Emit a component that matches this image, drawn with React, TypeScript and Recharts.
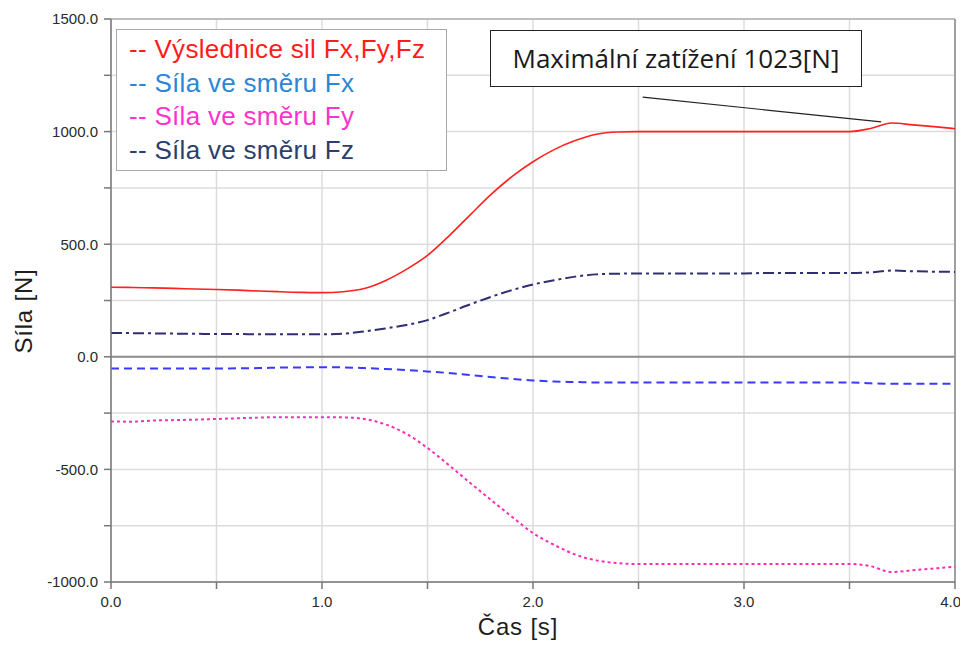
import React from "react";
import {
  LineChart,
  Line,
  XAxis,
  YAxis,
  CartesianGrid,
  ReferenceLine,
} from "recharts";

// time axis [s]
const time = [
  0.0, 0.1, 0.2, 0.3, 0.4, 0.5, 0.6, 0.7, 0.8, 0.9, 1.0, 1.1, 1.2, 1.3, 1.4,
  1.5, 1.6, 1.7, 1.8, 1.9, 2.0, 2.1, 2.2, 2.3, 2.4, 2.5, 2.6, 2.7, 2.8, 2.9,
  3.0, 3.1, 3.2, 3.3, 3.4, 3.5, 3.6, 3.7, 3.8, 3.9, 4.0,
];
// resultant force [N]
const resultant = [
  309, 308, 306, 304, 301, 299, 296, 292, 289, 286, 285, 289, 303, 338, 388,
  450, 535, 628, 720, 800, 866, 920, 960, 988, 998, 1000, 1000, 1000, 1000,
  1000, 1000, 1000, 1000, 1000, 1000, 1000, 1014, 1038, 1030, 1022, 1013,
];
const forceX = [
  -52, -52, -52, -52, -52, -52, -51, -50, -48, -47, -46, -47, -50, -54, -59,
  -65, -72, -81, -90, -98, -105, -110, -112, -114, -114, -114, -114, -114,
  -114, -114, -114, -114, -114, -114, -114, -114, -118, -120, -120, -120, -120,
];
const forceY = [
  -287, -288, -283, -281, -279, -276, -273, -270, -268, -268, -268, -269, -276,
  -300, -342, -405, -480, -558, -635, -710, -783, -835, -878, -904, -916, -920,
  -920, -920, -920, -920, -920, -920, -920, -920, -920, -920, -930, -956, -948,
  -940, -932,
];
const forceZ = [
  106, 105, 104, 103, 102, 101, 101, 100, 100, 100, 100, 103, 113, 126, 141,
  163, 196, 232, 266, 296, 321, 340, 356, 366, 369, 370, 370, 370, 370, 370,
  370, 372, 372, 372, 372, 372, 375, 383, 380, 378, 377,
];

const xTicks = [0, 0.5, 1, 1.5, 2, 2.5, 3, 3.5, 4];
const yTicks = [-1000, -750, -500, -250, 0, 250, 500, 750, 1000, 1250, 1500];

const legendItems = [
  { label: "-- Výslednice sil Fx,Fy,Fz", color: "#ff1c1c" },
  { label: "-- Síla ve směru Fx", color: "#2b86d6" },
  { label: "-- Síla ve směru Fy", color: "#ff33cc" },
  { label: "-- Síla ve směru Fz", color: "#2c3f6c" },
];

const annotationText = "Maximální zatížení 1023[N]";
const pointer = [
  { x: 2.52, y: 1153 },
  { x: 3.65, y: 1043 },
];

const data = time.map((t, i) => ({
  t,
  res: resultant[i],
  fx: forceX[i],
  fy: forceY[i],
  fz: forceZ[i],
}));

const font = "'Liberation Sans', Arial, sans-serif";
const tickStyle = { fill: "#2a2a2a", fontSize: 15, fontFamily: font };

export default function App() {
  return (
    <div style={{ position: "relative", width: 952, height: 640 }}>
      <LineChart
        width={952}
        height={640}
        data={data}
        margin={{ top: 11, right: 5, left: 0, bottom: 0 }}
      >
        <CartesianGrid stroke="#dcdcdc" strokeWidth={1.5} />
        <XAxis
          dataKey="t"
          type="number"
          domain={[0, 4]}
          ticks={xTicks}
          height={66}
          tickSize={7}
          tickMargin={7}
          stroke="#777"
          strokeWidth={1.5}
          tick={tickStyle}
          tickFormatter={(v: number) => (v % 1 === 0 ? v.toFixed(1) : "")}
        />
        <YAxis
          type="number"
          domain={[-1000, 1500]}
          ticks={yTicks}
          width={103}
          tickSize={7}
          tickMargin={6}
          stroke="#777"
          strokeWidth={1.5}
          tick={tickStyle}
          tickFormatter={(v: number) => (v % 500 === 0 ? v.toFixed(1) : "")}
        />
        <ReferenceLine y={1500} stroke="#b0b0b0" strokeWidth={1.5} />
        <ReferenceLine x={4} stroke="#a0a0a0" strokeWidth={2} />
        <ReferenceLine y={0} stroke="#8c8c8c" strokeWidth={2} />
        <ReferenceLine segment={pointer} stroke="#222" strokeWidth={1.2} />
        <Line
          dataKey="res"
          type="monotone"
          stroke="#ff2020"
          strokeWidth={1.6}
          dot={false}
          isAnimationActive={false}
        />
        <Line
          dataKey="fx"
          type="monotone"
          stroke="#3a3aff"
          strokeWidth={2}
          strokeDasharray="8 5"
          dot={false}
          isAnimationActive={false}
        />
        <Line
          dataKey="fy"
          type="monotone"
          stroke="#ff2eb4"
          strokeWidth={2}
          strokeDasharray="3 3"
          dot={false}
          isAnimationActive={false}
        />
        <Line
          dataKey="fz"
          type="monotone"
          stroke="#2e2e70"
          strokeWidth={2}
          strokeDasharray="11 4 3 4"
          dot={false}
          isAnimationActive={false}
        />
      </LineChart>

      {/* axis titles */}
      <div
        style={{
          position: "absolute",
          left: 430,
          top: 604,
          width: 160,
          textAlign: "center",
          fontFamily: font,
          fontSize: 24,
          letterSpacing: 0.8,
          color: "#1e1e1e",
          lineHeight: "30px",
        }}
      >
        Čas [s]
      </div>
      <div
        style={{
          position: "absolute",
          left: 16 - 80,
          top: 303 - 15,
          width: 160,
          textAlign: "center",
          fontFamily: font,
          fontSize: 24,
          letterSpacing: 0.8,
          color: "#1e1e1e",
          lineHeight: "30px",
          transform: "rotate(-90deg)",
        }}
      >
        Síla [N]
      </div>

      <div
        style={{
          position: "absolute",
          left: 108,
          top: 21,
          width: 317,
          height: 137,
          padding: "3px 0 0 12px",
          border: "1px solid #a8a8a8",
          background: "#fff",
          fontFamily: font,
          fontSize: 26,
          letterSpacing: 0.3,
          lineHeight: "33.5px",
        }}
      >
        {legendItems.map((it) => (
          <div key={it.label} style={{ color: it.color, whiteSpace: "nowrap" }}>
            {it.label}
          </div>
        ))}
      </div>

      <div
        style={{
          position: "absolute",
          left: 482,
          top: 22,
          width: 370,
          height: 55,
          border: "1px solid #222",
          background: "#fff",
          fontFamily: "'Open Sans', sans-serif",
          fontSize: 26,
          lineHeight: "55px",
          textAlign: "center",
          color: "#1a1a1a",
          whiteSpace: "nowrap",
        }}
      >
        {annotationText}
      </div>
    </div>
  );
}
